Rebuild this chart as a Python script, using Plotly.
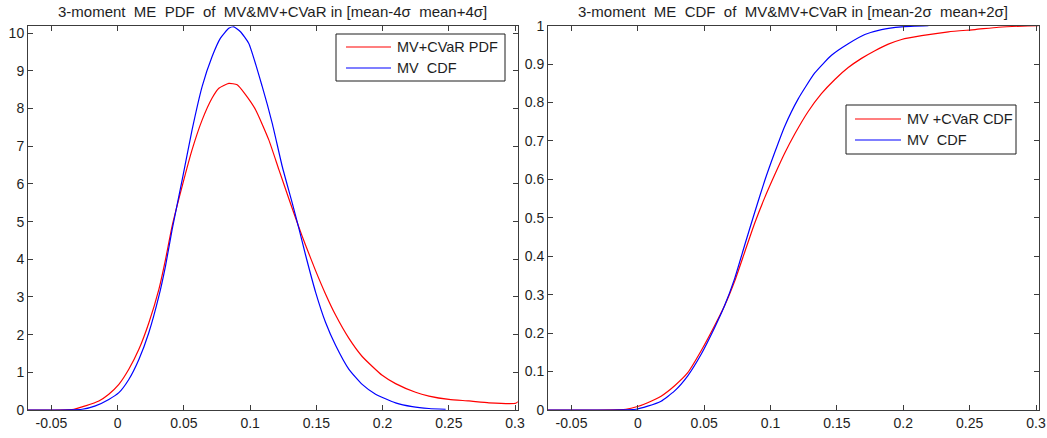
import plotly.graph_objects as go

# ---- PDF panel: values ----
cvar_pdf_x = [-0.0677, -0.0331, -0.0243, -0.0142, -0.0067, 0.0009, 0.0084, 0.016, 0.0235,
              0.0311, 0.0361, 0.0411, 0.0487, 0.0562, 0.0638, 0.0713, 0.0764, 0.0839,
              0.0902, 0.0965, 0.1041, 0.1141, 0.1217, 0.1293, 0.1368, 0.1418, 0.1494,
              0.1569, 0.1645, 0.1746, 0.1846, 0.1997, 0.2098, 0.2249, 0.235, 0.2501,
              0.2652, 0.2803, 0.3005, 0.303]
cvar_pdf_y = [0.0, 0.02, 0.11, 0.24, 0.42, 0.68, 1.08, 1.61, 2.31,
              3.20, 3.99, 4.88, 5.94, 6.91, 7.70, 8.28, 8.54, 8.67,
              8.63, 8.37, 7.97, 7.17, 6.38, 5.60, 4.85, 4.38, 3.70,
              3.08, 2.52, 1.90, 1.42, 0.92, 0.70, 0.47, 0.37, 0.28,
              0.24, 0.19, 0.18, 0.24]

mv_pdf_x = [-0.0677, -0.0268, -0.0168, -0.0067, 0.0009, 0.0084, 0.016, 0.0235, 0.0311,
            0.0361, 0.0411, 0.0487, 0.0562, 0.0638, 0.0713, 0.0776, 0.0839, 0.0877,
            0.0927, 0.099, 0.1091, 0.1167, 0.1242, 0.1318, 0.1368, 0.1418, 0.1494,
            0.1569, 0.1645, 0.1746, 0.1846, 0.1947, 0.2098, 0.2224, 0.235, 0.2476]
mv_pdf_y = [0.0, 0.02, 0.11, 0.28, 0.46, 0.81, 1.34, 2.05, 3.02,
            3.82, 4.79, 6.11, 7.44, 8.59, 9.38, 9.87, 10.13, 10.17,
            10.04, 9.73, 8.59, 7.61, 6.47, 5.49, 4.82, 4.12, 3.13,
            2.33, 1.72, 1.08, 0.68, 0.42, 0.19, 0.09, 0.04, 0.02]

# ---- CDF panel ----
cvar_cdf_x = [-0.068, -0.009, -0.0002, 0.0074, 0.0175, 0.0275, 0.0376, 0.0477, 0.0578,
              0.0653, 0.0729, 0.0804, 0.088, 0.0955, 0.1031, 0.1106, 0.1182, 0.1282,
              0.1383, 0.1484, 0.1585, 0.1685, 0.1786, 0.1887, 0.1987, 0.2138, 0.234,
              0.2541, 0.2717, 0.2894, 0.302]
cvar_cdf_y = [0.0, 0.002, 0.009, 0.019, 0.036, 0.0625, 0.097, 0.154, 0.219,
              0.271, 0.335, 0.41, 0.486, 0.552, 0.612, 0.668, 0.718, 0.776,
              0.823, 0.860, 0.891, 0.915, 0.935, 0.952, 0.964, 0.974, 0.984,
              0.990, 0.996, 0.999, 1.0]

mv_cdf_x = [-0.068, -0.0014, 0.0074, 0.0175, 0.0275, 0.0376, 0.0477, 0.0578, 0.0653,
            0.0729, 0.0804, 0.088, 0.0955, 0.1031, 0.1106, 0.1207, 0.1333, 0.1459,
            0.1585, 0.171, 0.1836, 0.1987, 0.2189]
mv_cdf_y = [0.0, 0.002, 0.010, 0.023, 0.049, 0.089, 0.145, 0.214, 0.271,
            0.342, 0.428, 0.514, 0.596, 0.670, 0.738, 0.809, 0.877, 0.923,
            0.953, 0.977, 0.990, 0.997, 1.0]

x_tick_vals = [-0.05, 0, 0.05, 0.1, 0.15, 0.2, 0.25, 0.3]
x_tick_text = ["-0.05", "0", "0.05", "0.1", "0.15", "0.2", "0.25", "0.3"]
pdf_y_ticks = list(range(0, 11))
cdf_y_ticks = [0, 0.1, 0.2, 0.3, 0.4, 0.5, 0.6, 0.7, 0.8, 0.9, 1]
cdf_y_text = ["0", "0.1", "0.2", "0.3", "0.4", "0.5", "0.6", "0.7", "0.8", "0.9", "1"]

titles = ["3-moment\u00a0 ME\u00a0 PDF\u00a0 of\u00a0 MV&MV+CVaR in [mean-4σ\u00a0 mean+4σ]",
          "3-moment\u00a0 ME\u00a0 CDF\u00a0 of\u00a0 MV&MV+CVaR in [mean-2σ\u00a0 mean+2σ]"]
pdf_legend = ["MV+CVaR PDF", "MV\u00a0 CDF"]
cdf_legend = ["MV +CVaR CDF", "MV\u00a0 CDF"]

FONT = "Liberation Sans, Arial, Helvetica, sans-serif"
TXT = "#1e1e1e"
RED = "#ff0000"
BLUE = "#0000ff"
AXIS = "#3c3c3c"
W, H = 1047, 438

fig = go.Figure()
line_kw = dict(width=1.2, shape="spline", smoothing=0.5)

fig.add_trace(go.Scatter(x=cvar_pdf_x, y=cvar_pdf_y, mode="lines", name=pdf_legend[0],
                         line=dict(color=RED, **line_kw), xaxis="x", yaxis="y"))
fig.add_trace(go.Scatter(x=mv_pdf_x, y=mv_pdf_y, mode="lines", name=pdf_legend[1],
                         line=dict(color=BLUE, **line_kw), xaxis="x", yaxis="y"))
fig.add_trace(go.Scatter(x=cvar_cdf_x, y=cvar_cdf_y, mode="lines", name=cdf_legend[0],
                         line=dict(color=RED, **line_kw), xaxis="x2", yaxis="y2"))
fig.add_trace(go.Scatter(x=mv_cdf_x, y=mv_cdf_y, mode="lines", name=cdf_legend[1],
                         line=dict(color=BLUE, **line_kw), xaxis="x2", yaxis="y2"))

# panel boxes in pixels
left_box = (28, 517.7)
right_box = (548, 1038.7)
top_px, bottom_px = 25.7, 410.0
ydom = [(H - bottom_px) / H, (H - top_px) / H]

axis_common = dict(showline=True, linecolor=AXIS, linewidth=1, mirror="allticks",
                   ticks="inside", ticklen=5, tickcolor=AXIS, showgrid=False, zeroline=False,
                   automargin=False, tickfont=dict(family=FONT, size=14, color=TXT))

xr = [-0.0677, 0.302]
fig.update_layout(
    width=W, height=H,
    margin=dict(l=0, r=0, t=0, b=0),
    paper_bgcolor="white", plot_bgcolor="white",
    font=dict(family=FONT, size=14, color=TXT),
    showlegend=False,
    xaxis=dict(domain=[left_box[0] / W, left_box[1] / W], range=xr, anchor="y",
               tickvals=x_tick_vals, ticktext=x_tick_text, **axis_common),
    yaxis=dict(domain=ydom, range=[0, 10.2], anchor="x", tickvals=pdf_y_ticks, **axis_common),
    xaxis2=dict(domain=[right_box[0] / W, right_box[1] / W], range=xr, anchor="y2",
                tickvals=x_tick_vals, ticktext=x_tick_text, **axis_common),
    yaxis2=dict(domain=ydom, range=[0, 1], anchor="x2", tickvals=cdf_y_ticks,
                ticktext=cdf_y_text, **axis_common),
)

# panel titles
for i, t in enumerate(titles):
    box = left_box if i == 0 else right_box
    fig.add_annotation(text=t, xref="paper", yref="paper",
                       x=(box[0] + box[1]) / 2 / W, y=1 - 11 / H,
                       xanchor="center", yanchor="middle", showarrow=False,
                       font=dict(family=FONT, size=15, color=TXT))


def px(xp):
    return xp / W


def py(yp):
    return 1 - yp / H


# boxed legends: (box x0, x1, y0, y1), sample line x0, x1, rows y, labels
legends = [
    ((336, 505, 34, 81), (346, 391), (47, 68), pdf_legend),
    ((846, 1016, 105, 154), (855, 901), (119, 140), cdf_legend),
]
for (bx0, bx1, by0, by1), (lx0, lx1), rows, labels in legends:
    fig.add_shape(type="rect", xref="paper", yref="paper",
                  x0=px(bx0), x1=px(bx1), y0=py(by1), y1=py(by0),
                  line=dict(color=TXT, width=1), fillcolor="white", layer="above")
    for row_y, label, color in zip(rows, labels, [RED, BLUE]):
        fig.add_shape(type="line", xref="paper", yref="paper",
                      x0=px(lx0), x1=px(lx1), y0=py(row_y), y1=py(row_y),
                      line=dict(color=color, width=1.2), layer="above")
        fig.add_annotation(text=label, xref="paper", yref="paper",
                           x=px(lx1 + 4), y=py(row_y), xanchor="left", yanchor="middle",
                           showarrow=False, font=dict(family=FONT, size=14.5, color=TXT))

fig.write_html("out.html")
